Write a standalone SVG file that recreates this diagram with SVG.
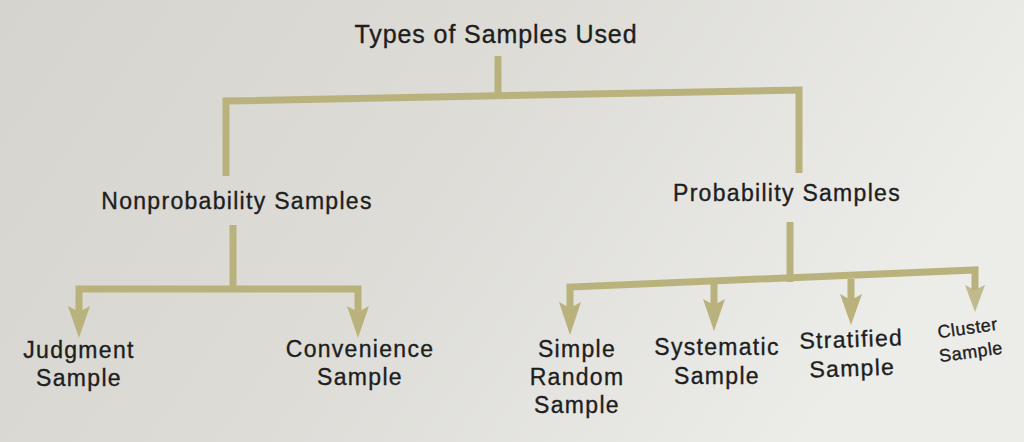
<svg xmlns="http://www.w3.org/2000/svg" width="1024" height="442" viewBox="0 0 1024 442">
<defs>
<linearGradient id="bg" x1="0" y1="0" x2="1" y2="0.3">
<stop offset="0" stop-color="#d6d4ce"/>
<stop offset="0.5" stop-color="#dddcd7"/>
<stop offset="1" stop-color="#ecece9"/>
</linearGradient>
<style>
.c{fill:none;stroke:#b9b27c;stroke-width:7;stroke-linejoin:miter;stroke-linecap:butt}
.t{font-family:"Liberation Sans",Arial,sans-serif;fill:#1e1e1e;stroke:#1e1e1e;stroke-width:0.35;text-anchor:middle}
.h{font-size:25px;letter-spacing:0.9px}
.l{font-size:23px;letter-spacing:1.3px}
</style>
</defs>
<rect width="1024" height="442" fill="url(#bg)"/>
<g id="connectors">
<path class="c" d="M498,56 V96"/>
<path class="c" d="M226,176 V101 L799,90 V173"/>
<path class="c" d="M233,225 V289"/>
<path class="c" d="M79,312 V289 H358 V312"/>
<path class="c" d="M790,222 V282"/>
<path class="c" d="M570,308 V287 L975,270 V290"/>
<path class="c" d="M714,284 V305"/>
<path class="c" d="M851,279 V300"/>
<g fill="#b9b27c">
<path d="M68,306 L79,312 L90,306 L79,338 Z"/>
<path d="M347,306 L358,312 L369,306 L358,338 Z"/>
<path d="M559,302 L570,308 L581,302 L570,335 Z"/>
<path d="M703,299 L714,305 L725,299 L714,331 Z"/>
<path d="M840,294 L851,300 L862,294 L851,325 Z"/>
<path d="M965,285 L975,290 L985,285 L975,312 Z" opacity="0.85"/>
</g>
</g>
<g id="root"><text class="t h" x="496" y="43">Types of Samples Used</text></g>
<g id="nonprob"><text class="t l" x="237" y="209">Nonprobability Samples</text></g>
<g id="prob"><text class="t l" x="787" y="201">Probability Samples</text></g>
<g id="judgment"><text class="t l" x="79" y="358">Judgment<tspan x="79" dy="28">Sample</tspan></text></g>
<g id="convenience"><text class="t l" x="360" y="357">Convenience<tspan x="360" dy="28">Sample</tspan></text></g>
<g id="simple"><text class="t l" x="577" y="357">Simple<tspan x="577" dy="28">Random</tspan><tspan x="577" dy="28">Sample</tspan></text></g>
<g id="systematic"><text class="t l" x="717" y="355">Systematic<tspan x="717" dy="29">Sample</tspan></text></g>
<g id="stratified"><text class="t l" x="852" y="347" transform="rotate(-2 852 360)">Stratified<tspan x="852" dy="29">Sample</tspan></text></g>
<g id="cluster"><text class="t" font-size="18" letter-spacing="0.5" x="970" y="334" fill="#333" stroke-width="0.2" transform="rotate(-8 970 345)">Cluster<tspan x="970" dy="24">Sample</tspan></text></g>
</svg>
